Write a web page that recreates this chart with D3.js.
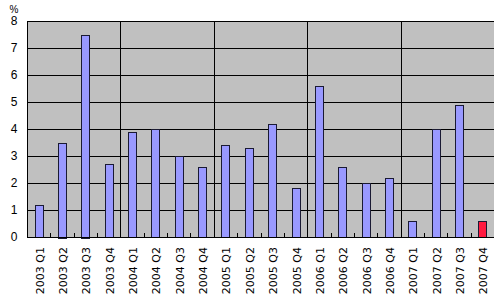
<!DOCTYPE html>
<html><head><meta charset="utf-8">
<script src="https://cdn.jsdelivr.net/npm/d3@7"></script>
<style>body{margin:0;background:#fff}svg{display:block}</style>
</head><body>
<script>
const categories = ["2003 Q1","2003 Q2","2003 Q3","2003 Q4","2004 Q1","2004 Q2","2004 Q3","2004 Q4","2005 Q1","2005 Q2","2005 Q3","2005 Q4","2006 Q1","2006 Q2","2006 Q3","2006 Q4","2007 Q1","2007 Q2","2007 Q3","2007 Q4"];
const values = [1.2,3.5,7.5,2.7,3.9,4.0,3.0,2.6,3.4,3.3,4.2,1.8,5.6,2.6,2.0,2.2,0.6,4.0,4.9,0.6];
const highlight = ["2007 Q4"];
const yTicks = [0,1,2,3,4,5,6,7,8];
const yearStarts = ["2004 Q1","2005 Q1","2006 Q1","2007 Q1"];

const W=500,H=306, L=27, R=494, T=21, B=237;
const svg = d3.select("body").append("svg").attr("width",W).attr("height",H);
const x = d3.scaleBand().domain(categories).range([L,R]).paddingInner(0).paddingOuter(0);
const y = d3.scaleLinear().domain([0,8]).range([B,T]);

svg.append("rect").attr("x",L).attr("y",T).attr("width",R-L).attr("height",B-T).attr("fill","#c0c0c0");

// gridlines
svg.append("g").selectAll("line").data(yTicks).join("line")
  .attr("x1",L).attr("x2",R).attr("y1",d=>y(d)+0.5).attr("y2",d=>y(d)+0.5)
  .attr("stroke","#000").attr("stroke-width",1);
// year separators
svg.append("g").selectAll("line").data(yearStarts).join("line")
  .attr("x1",d=>Math.round(x(d))+0.5).attr("x2",d=>Math.round(x(d))+0.5)
  .attr("y1",T).attr("y2",B).attr("stroke","#000");

// bars
const bw = 8;
svg.append("g").selectAll("rect").data(categories).join("rect")
  .attr("x",(d)=>Math.round(x(d)+x.bandwidth()/2-bw/2)+0.5)
  .attr("y",(d,i)=>Math.round(y(values[i]))+0.5)
  .attr("width",bw)
  .attr("height",(d,i)=>Math.round(B-y(values[i])))
  .attr("fill",d=>highlight.includes(d)?"#ff1a40":"#9999ff")
  .attr("stroke","#1a1a33").attr("stroke-width",1);

// x axis
const xa = svg.append("g").attr("transform",`translate(0,${B+0.5})`)
  .call(d3.axisBottom(x).tickSize(0).tickFormat(""));
xa.select(".domain").attr("stroke","#000").attr("d",`M${L},0H${R}`);
// inner small ticks at band boundaries
svg.append("g").selectAll("line").data(categories.slice(1)).join("line")
  .attr("x1",d=>Math.round(x(d))+0.5).attr("x2",d=>Math.round(x(d))+0.5)
  .attr("y1",B).attr("y2",B-4).attr("stroke","#000");
// rotated labels
svg.append("g").selectAll("text").data(categories).join("text")
  .attr("transform",d=>`translate(${x(d)+x.bandwidth()/2+5},${B+10}) rotate(-90)`)
  .attr("text-anchor","end")
  .attr("font-family","DejaVu Sans, sans-serif").attr("font-size",11).attr("fill","#000")
  .text(d=>d);

// y axis
const ya = svg.append("g").attr("transform",`translate(${L+0.5},0)`)
  .call(d3.axisLeft(y).tickValues(yTicks).tickSize(0).tickPadding(10).tickFormat(d3.format("d")));
ya.select(".domain").attr("stroke","#000").attr("d",`M0,${T}V${B}`);
ya.selectAll("text").attr("font-family","Liberation Sans, Arial, sans-serif").attr("font-size",12).attr("fill","#000");

svg.append("text").attr("x",14).attr("y",13).attr("text-anchor","middle")
  .attr("font-family","Liberation Sans, Arial, sans-serif").attr("font-size",10).text("%");
</script>
</body></html>
